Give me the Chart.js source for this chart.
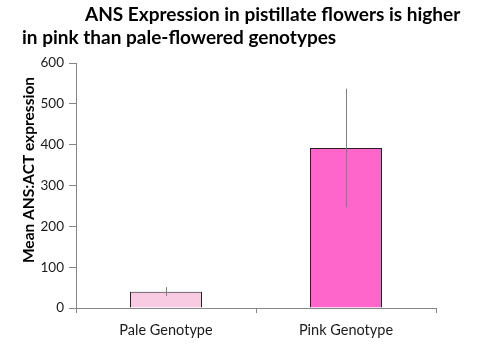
<!DOCTYPE html>
<html>
<head>
<meta charset="utf-8">
<script src="https://cdn.jsdelivr.net/npm/chart.js@4"></script>
<style>
  html, body { margin: 0; padding: 0; background: #fff; }
  #wrap { width: 477px; height: 350px; position: relative; }
</style>
</head>
<body>
<div id="wrap"><canvas id="chart"></canvas></div>
<script>
const categories = ["Pale Genotype", "Pink Genotype"];
const meanValues = [40, 392];
const errorValues = [11, 145];
const yTicks = [0, 100, 200, 300, 400, 500, 600];
const titleLines = ["ANS Expression in pistillate flowers is higher", "in pink than pale-flowered genotypes"];
const yTitle = "Mean ANS:ACT expression";

const FONT = "Lato, 'Open Sans', sans-serif";

// titles and error bars drawn on top of the chart
const extras = {
  id: "extras",
  afterDatasetsDraw(chart) {
    const ctx = chart.ctx;
    const x = chart.scales.x;
    const y = chart.scales.y;
    ctx.save();
    ctx.strokeStyle = "#7f7f7f";
    ctx.lineWidth = 1;
    meanValues.forEach((v, i) => {
      const px = Math.round(x.getPixelForValue(i)) + 0.5;
      ctx.beginPath();
      ctx.moveTo(px, y.getPixelForValue(v - errorValues[i]));
      ctx.lineTo(px, y.getPixelForValue(v + errorValues[i]));
      ctx.stroke();
    });
    ctx.restore();
  },
  afterDraw(chart) {
    const ctx = chart.ctx;
    ctx.save();
    ctx.fillStyle = "#000";
    ctx.textBaseline = "alphabetic";
    ctx.textAlign = "left";
    ctx.font = "bold 19px " + FONT;
    ctx.fillText(titleLines[0], 85, 21);
    ctx.fillText(titleLines[1], 22, 44);

    ctx.translate(29, 170);
    ctx.rotate(-Math.PI / 2);
    ctx.textAlign = "center";
    ctx.textBaseline = "middle";
    ctx.font = "bold 15.5px " + FONT;
    ctx.fillText(yTitle, 0, 0);
    ctx.restore();
  }
};

new Chart(document.getElementById("chart"), {
  type: "bar",
  data: {
    labels: categories,
    datasets: [{
      data: meanValues,
      backgroundColor: ["#f9cbe2", "#ff66cc"],
      borderColor: "#222222",
      borderWidth: 1,
      borderSkipped: "bottom",
      barPercentage: 0.4,
      categoryPercentage: 1
    }]
  },
  options: {
    responsive: true,
    maintainAspectRatio: false,
    animation: false,
    layout: { padding: { left: 0, right: 41, top: 63, bottom: 0 } },
    plugins: {
      legend: { display: false },
      title: { display: false },
      tooltip: { enabled: false }
    },
    scales: {
      x: {
        grid: { drawOnChartArea: false, drawTicks: true, tickLength: 5, color: "#868686", offset: true },
        border: { color: "#868686" },
        ticks: { color: "#1a1a1a", font: { family: FONT, size: 14.5 }, padding: 9 },
        afterFit(scale) { scale.height = 42; }
      },
      y: {
        min: 0,
        max: 600,
        afterBuildTicks(scale) { scale.ticks = yTicks.map(v => ({ value: v })); },
        grid: { drawOnChartArea: false, drawTicks: true, tickLength: 7, color: "#868686" },
        border: { color: "#868686" },
        ticks: { color: "#1a1a1a", font: { family: FONT, size: 13.5 }, padding: 5 },
        afterFit(scale) { scale.width = 76; }
      }
    }
  },
  plugins: [extras]
});
</script>
</body>
</html>
